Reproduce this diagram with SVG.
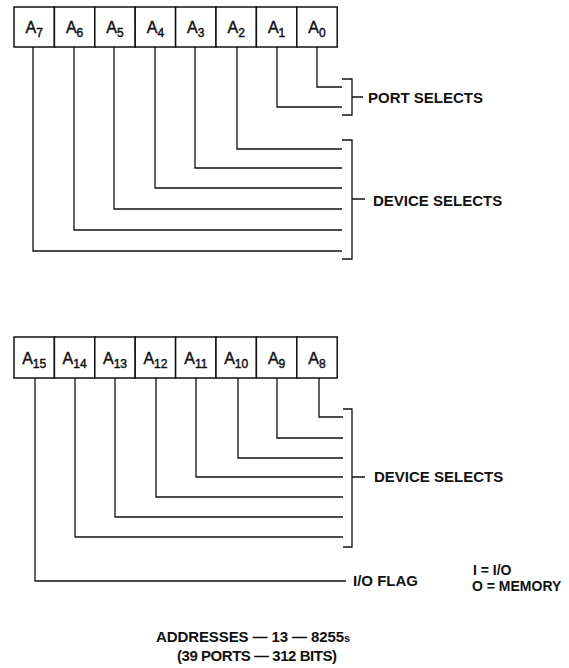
<svg xmlns="http://www.w3.org/2000/svg" width="569" height="668" viewBox="0 0 569 668">
<style>
.cell{fill:#fff;stroke:#111;stroke-width:1.5}
.wire{fill:none;stroke:#111;stroke-width:1.3}
.reg{font-family:"Liberation Sans",Arial,sans-serif;font-size:16px;fill:#111;stroke:#111;stroke-width:0.45;text-anchor:middle}
.sub{font-size:12px}
.lbl{font-family:"Liberation Sans",Arial,sans-serif;font-size:15px;font-weight:bold;fill:#111}
.key{font-size:14px}
</style>
<rect width="569" height="668" fill="#fff"/>
<g id="reg-low">
<rect class="cell" x="14" y="7" width="40.4" height="40"/>
<rect class="cell" x="54.4" y="7" width="40.4" height="40"/>
<rect class="cell" x="94.8" y="7" width="40.4" height="40"/>
<rect class="cell" x="135.2" y="7" width="40.4" height="40"/>
<rect class="cell" x="175.6" y="7" width="40.4" height="40"/>
<rect class="cell" x="216" y="7" width="40.4" height="40"/>
<rect class="cell" x="256.4" y="7" width="40.4" height="40"/>
<rect class="cell" x="296.8" y="7" width="40.4" height="40"/>
<text class="reg" x="34.2" y="33">A<tspan class="sub" dy="4">7</tspan></text>
<text class="reg" x="74.6" y="33">A<tspan class="sub" dy="4">6</tspan></text>
<text class="reg" x="115" y="33">A<tspan class="sub" dy="4">5</tspan></text>
<text class="reg" x="155.4" y="33">A<tspan class="sub" dy="4">4</tspan></text>
<text class="reg" x="195.8" y="33">A<tspan class="sub" dy="4">3</tspan></text>
<text class="reg" x="236.2" y="33">A<tspan class="sub" dy="4">2</tspan></text>
<text class="reg" x="276.6" y="33">A<tspan class="sub" dy="4">1</tspan></text>
<text class="reg" x="317" y="33">A<tspan class="sub" dy="4">0</tspan></text>
</g>
<g id="reg-high">
<rect class="cell" x="14" y="337" width="40.4" height="41"/>
<rect class="cell" x="54.4" y="337" width="40.4" height="41"/>
<rect class="cell" x="94.8" y="337" width="40.4" height="41"/>
<rect class="cell" x="135.2" y="337" width="40.4" height="41"/>
<rect class="cell" x="175.6" y="337" width="40.4" height="41"/>
<rect class="cell" x="216" y="337" width="40.4" height="41"/>
<rect class="cell" x="256.4" y="337" width="40.4" height="41"/>
<rect class="cell" x="296.8" y="337" width="40.4" height="41"/>
<text class="reg" x="34.2" y="364">A<tspan class="sub" dy="4">15</tspan></text>
<text class="reg" x="74.6" y="364">A<tspan class="sub" dy="4">14</tspan></text>
<text class="reg" x="115" y="364">A<tspan class="sub" dy="4">13</tspan></text>
<text class="reg" x="155.4" y="364">A<tspan class="sub" dy="4">12</tspan></text>
<text class="reg" x="195.8" y="364">A<tspan class="sub" dy="4">11</tspan></text>
<text class="reg" x="236.2" y="364">A<tspan class="sub" dy="4">10</tspan></text>
<text class="reg" x="276.6" y="364">A<tspan class="sub" dy="4">9</tspan></text>
<text class="reg" x="317" y="364">A<tspan class="sub" dy="4">8</tspan></text>
</g>
<g id="connectors">
<path class="wire" d="M317 47V87H342"/>
<path class="wire" d="M277 47V107H342"/>
<path class="wire" d="M237 47V149H342"/>
<path class="wire" d="M195 47V168H342"/>
<path class="wire" d="M155 47V188H342"/>
<path class="wire" d="M114 47V209H342"/>
<path class="wire" d="M74 47V230H342"/>
<path class="wire" d="M33 47V251H342"/>
<path class="wire" d="M342 79H352V115H342M352 97H363"/>
<path class="wire" d="M342 140H352V259H342M352 199H365"/>
<path class="wire" d="M319 378V417H343"/>
<path class="wire" d="M277 378V438H343"/>
<path class="wire" d="M238 378V458H343"/>
<path class="wire" d="M196 378V477H343"/>
<path class="wire" d="M156 378V497H343"/>
<path class="wire" d="M115 378V517H343"/>
<path class="wire" d="M75 378V537H343"/>
<path class="wire" d="M35 378V581H346"/>
<path class="wire" d="M343 409H352V547H343M352 477H365"/>
</g>
<g id="labels">
<text class="lbl" x="368" y="103">PORT SELECTS</text>
<text class="lbl" x="373" y="205.5">DEVICE SELECTS</text>
<text class="lbl" x="374" y="482">DEVICE SELECTS</text>
<text class="lbl" x="353" y="586">I/O FLAG</text>
<text class="lbl key" x="473" y="575">I = I/O</text>
<text class="lbl key" x="472" y="591">O = MEMORY</text>
<text class="lbl" x="156" y="642" textLength="194" lengthAdjust="spacing">ADDRESSES — 13 — 8255<tspan font-size="11">s</tspan></text>
<text class="lbl" x="177" y="661" textLength="160" lengthAdjust="spacing">(39 PORTS — 312 BITS)</text>
</g>
</svg>
